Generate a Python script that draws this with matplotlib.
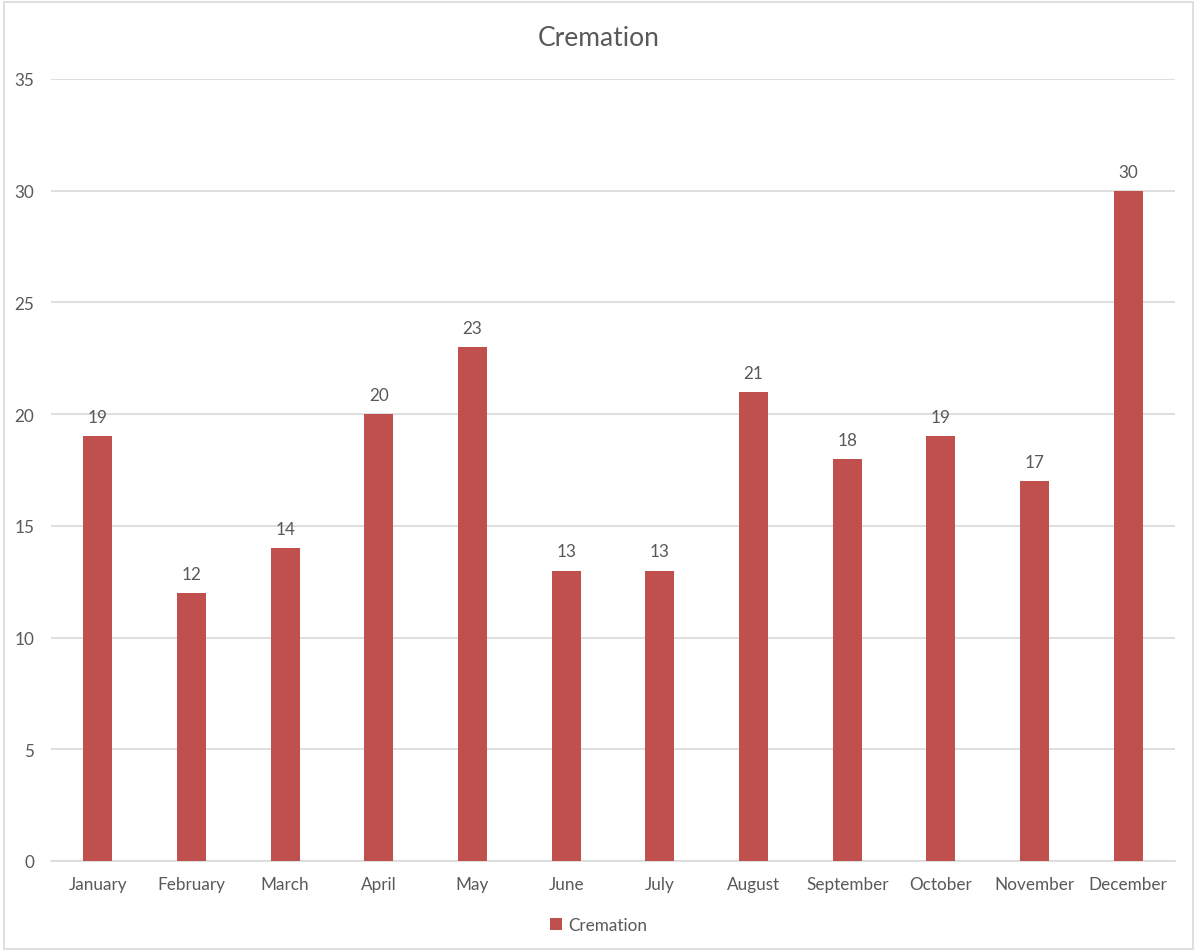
import matplotlib
matplotlib.use("Agg")
import matplotlib.pyplot as plt
from matplotlib.patches import Rectangle

months = ["January", "February", "March", "April", "May", "June", "July",
          "August", "September", "October", "November", "December"]
values = [19, 12, 14, 20, 23, 13, 13, 21, 18, 19, 17, 30]
series_name = "Cremation"
title = "Cremation"

plt.rcParams['font.family'] = ['Lato', 'DejaVu Sans']
txt = "#595959"
bar_color = "#C0504D"

fig = plt.figure(figsize=(11.97, 9.53), dpi=100)
fig.patches.append(Rectangle((0.003, 0.003), 0.994, 0.994, transform=fig.transFigure,
                             fill=False, edgecolor="#D9D9D9", linewidth=1.2))
ax = fig.add_axes([51/1197, 1-862/953, (1175-51)/1197, (862-80)/953])
x = list(range(len(months)))
bars = ax.bar(x, values, width=0.31, color=bar_color, label=series_name, zorder=3)
ax.set_xlim(-0.5, len(months) - 0.5)
ax.set_ylim(0, 35)
ax.set_yticks(range(0, 36, 5))
ax.set_xticks(x)
ax.set_xticklabels(months)
ax.grid(axis='y', color="#D9D9D9", linewidth=1.2, zorder=0)
for s in ["top", "right", "left"]:
    ax.spines[s].set_visible(False)
ax.spines["bottom"].set_color("#D9D9D9")
ax.spines["bottom"].set_linewidth(1.2)
ax.tick_params(axis='both', length=0, labelsize=12.3, colors=txt)
ax.tick_params(axis='x', pad=11)
ax.tick_params(axis='y', pad=12)
for b, v in zip(bars, values):
    ax.annotate(str(v), (b.get_x() + b.get_width()/2, v), xytext=(0, 8),
                textcoords="offset points", ha="center", va="bottom",
                fontsize=12.3, color=txt)
fig.text(0.5, 1-39/953, title, ha="center", va="center", fontsize=19, color=txt)
leg = fig.legend(handles=[bars], labels=[series_name], loc="center",
                 bbox_to_anchor=(0.5, 1-926/953), frameon=False, fontsize=12.3,
                 handlelength=0.7, handleheight=0.7, handletextpad=0.4)
for t in leg.get_texts():
    t.set_color(txt)
fig.savefig("out.png", dpi=100)
